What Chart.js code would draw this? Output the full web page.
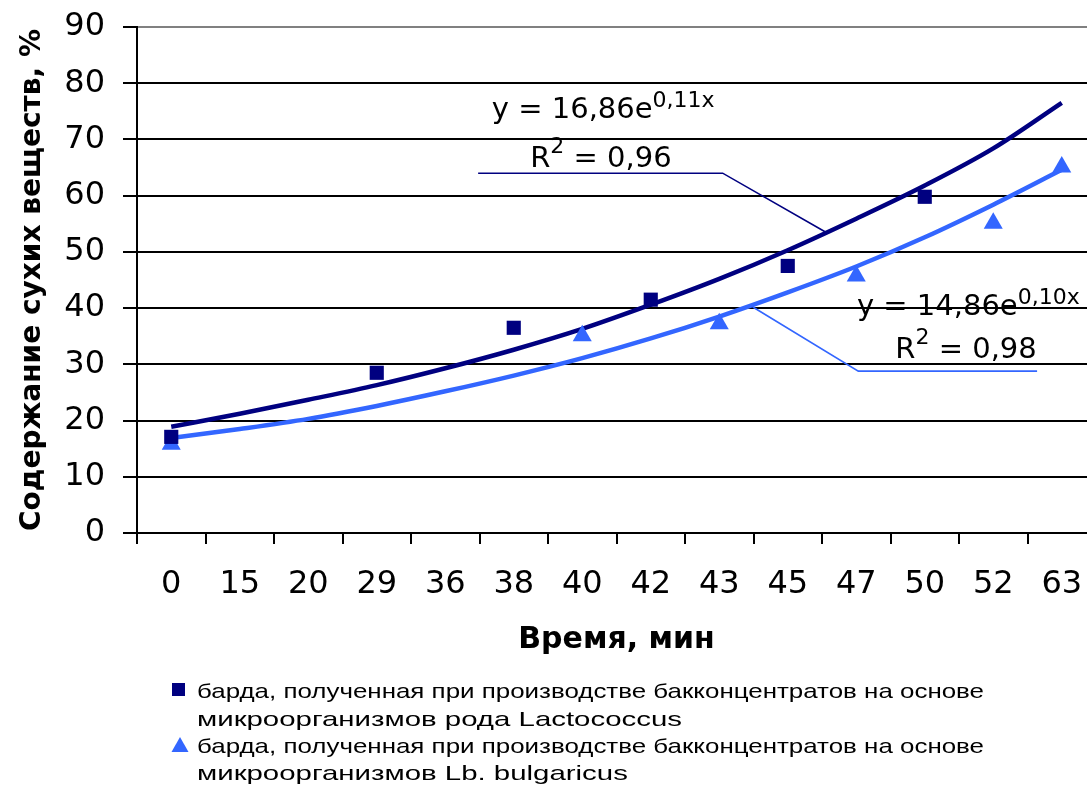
<!DOCTYPE html>
<html>
<head>
<meta charset="utf-8">
<title>Содержание сухих веществ</title>
<script src="https://cdn.jsdelivr.net/npm/chart.js@4.4.1/dist/chart.umd.min.js"></script>
<style>
  html, body { margin: 0; padding: 0; background: #fff; overflow: hidden; }
  #wrap { position: relative; width: 1087px; height: 787px; overflow: hidden; }
  #chart { position: absolute; left: 0; top: 0; }
</style>
</head>
<body>
<div id="wrap"><canvas id="chart" width="1110" height="787"></canvas></div>
<script>
// x categories: time, min
var categories = ['0', '15', '20', '29', '36', '38', '40', '42', '43', '45', '47', '50', '52', '63'];

// measured points (null where the series has no point)
var lactococcus = [17.1, null, null, 28.5, null, 36.5, null, 41.5, null, 47.5, null, 59.8, null, null];
var bulgaricus = [15.8, null, null, null, null, null, 35.1, null, 37.2, null, 45.7, null, 55.1, 65.1];

// exponential trend lines at each category
var trendLactococcus = [18.9, 21.2, 23.7, 26.3, 29.3, 32.6, 36.3, 40.6, 45.2, 50.3, 55.9, 61.8, 68.4, 76.5];
var trendBulgaricus = [16.9, 18.5, 20.3, 22.6, 25.2, 28.0, 31.1, 34.6, 38.5, 42.8, 47.4, 52.6, 58.4, 64.6];

var yTicks = [0, 10, 20, 30, 40, 50, 60, 70, 80, 90];

var seriesNames = [
  ['барда, полученная при производстве бакконцентратов на основе', 'микроорганизмов рода Lactococcus'],
  ['барда, полученная при производстве бакконцентратов на основе', 'микроорганизмов Lb. bulgaricus']
];
var equations = ['y = 16,86e', 'y = 14,86e'];
var exponents = ['0,11x', '0,10x'];
var rSquared = [' = 0,96', ' = 0,98'];

var xTitle = 'Время, мин';
var yTitle = 'Содержание сухих веществ, %';

(function () {
  'use strict';

  var NAVY = '#000080';
  var BLUE = '#3366ff';
  var FONT = 'DejaVu Sans';
  var LEGEND_FONT = 'Liberation Sans';

  // label anchors and leader lines, in (category index, value) space
  var eqAnchors = [
    { eq: [4.68, 73.8], r2: [5.24, 65.1], leader: [[4.48, 64.0], [8.05, 64.0], [9.57, 53.4]] },
    { eq: [10.01, 38.8], r2: [10.57, 31.1], leader: [[8.49, 40.2], [10.03, 28.8], [12.64, 28.8]] }
  ];
  var colors = [NAVY, BLUE];

  function px(chart, pt) {
    return {
      x: chart.scales.x.getPixelForValue(pt[0]),
      y: chart.scales.y.getPixelForValue(pt[1])
    };
  }

  var annotations = {
    id: 'annotations',
    afterDatasetsDraw: function (chart) {
      var ctx = chart.ctx;
      ctx.save();
      eqAnchors.forEach(function (a, i) {
        // leader line
        ctx.strokeStyle = colors[i];
        ctx.lineWidth = 1.6;
        ctx.beginPath();
        a.leader.forEach(function (pt, j) {
          var p = px(chart, pt);
          if (j === 0) { ctx.moveTo(p.x, p.y); } else { ctx.lineTo(p.x, p.y); }
        });
        ctx.stroke();

        ctx.fillStyle = '#000';
        ctx.textBaseline = 'alphabetic';
        ctx.textAlign = 'left';

        var p = px(chart, a.eq);
        ctx.font = '29px "' + FONT + '"';
        ctx.fillText(equations[i], p.x, p.y);
        var w = ctx.measureText(equations[i]).width;
        ctx.font = '22px "' + FONT + '"';
        ctx.fillText(exponents[i], p.x + w, p.y - 11);

        var r = px(chart, a.r2);
        ctx.font = '29px "' + FONT + '"';
        ctx.fillText('R', r.x, r.y);
        var rw = ctx.measureText('R').width;
        ctx.font = '22px "' + FONT + '"';
        ctx.fillText('2', r.x + rw, r.y - 14);
        var sw = ctx.measureText('2').width;
        ctx.font = '29px "' + FONT + '"';
        ctx.fillText(rSquared[i], r.x + rw + sw, r.y);
      });
      ctx.restore();
    },
    afterDraw: function (chart) {
      var ctx = chart.ctx;
      var baselines = [[698, 726], [753, 780]];
      var sx = 1.4;
      ctx.save();
      // legend markers
      ctx.fillStyle = NAVY;
      ctx.fillRect(172, 683, 13, 13);
      ctx.fillStyle = BLUE;
      ctx.beginPath();
      ctx.moveTo(180, 737);
      ctx.lineTo(188.5, 752);
      ctx.lineTo(171.5, 752);
      ctx.closePath();
      ctx.fill();
      // legend text: widened, long lines squeezed to the box width
      ctx.fillStyle = '#000';
      ctx.font = '21px "' + LEGEND_FONT + '"';
      ctx.textAlign = 'left';
      ctx.textBaseline = 'alphabetic';
      seriesNames.forEach(function (lines, i) {
        lines.forEach(function (line, j) {
          ctx.save();
          ctx.translate(197, baselines[i][j]);
          ctx.scale(sx, 1);
          ctx.fillText(line, 0, 0, 787 / sx);
          ctx.restore();
        });
      });
      ctx.restore();
    }
  };

  function pointData(values, color, radius, style) {
    return {
      data: values,
      showLine: false,
      pointStyle: style,
      pointRadius: radius,
      pointBackgroundColor: color,
      pointBorderColor: color,
      pointBorderWidth: 0
    };
  }

  function trendData(values, color) {
    return {
      data: values,
      showLine: true,
      borderColor: color,
      borderWidth: 4.5,
      pointRadius: 0,
      cubicInterpolationMode: 'monotone',
      fill: false
    };
  }

  new Chart(document.getElementById('chart'), {
    type: 'line',
    data: {
      labels: categories,
      datasets: [
        pointData(lactococcus, NAVY, 10, 'rect'),
        pointData(bulgaricus, BLUE, 11, 'triangle'),
        trendData(trendLactococcus, NAVY),
        trendData(trendBulgaricus, BLUE)
      ]
    },
    options: {
      responsive: false,
      animation: false,
      devicePixelRatio: 1,
      layout: { padding: { left: 0, top: 0, right: 14, bottom: 127 } },
      plugins: {
        legend: { display: false },
        tooltip: { enabled: false }
      },
      scales: {
        x: {
          type: 'category',
          offset: true,
          grid: { offset: true, drawOnChartArea: false, drawTicks: true, tickLength: 11, color: '#000', lineWidth: 2 },
          border: { display: true, color: '#000', width: 2 },
          ticks: { color: '#000', font: { family: FONT, size: 32 }, padding: 21, maxRotation: 0, autoSkip: false },
          title: {
            display: true, text: xTitle, color: '#000',
            font: { family: FONT, size: 30, weight: 'bold' },
            padding: { top: 0, bottom: 2 }
          },
          afterFit: function (scale) { scale.height = 127; }
        },
        y: {
          min: 0,
          max: 90,
          afterBuildTicks: function (scale) {
            scale.ticks = yTicks.map(function (v) { return { value: v }; });
          },
          grid: {
            color: function (c) { return c.tick && c.tick.value === 90 ? '#808080' : '#000'; },
            tickColor: '#000',
            lineWidth: 2,
            tickLength: 14
          },
          border: { display: true, color: '#000', width: 2 },
          // small line height keeps the top padding at 27px
          ticks: { color: '#000', font: { family: FONT, size: 32, lineHeight: '18px' }, padding: 18 },
          title: {
            display: true, text: yTitle, color: '#000',
            font: { family: FONT, size: 28, weight: 'bold' },
            padding: { top: 16, bottom: 0 }
          },
          afterFit: function (scale) { scale.width = 137; }
        }
      }
    },
    plugins: [annotations]
  });
})();
</script>
</body>
</html>
